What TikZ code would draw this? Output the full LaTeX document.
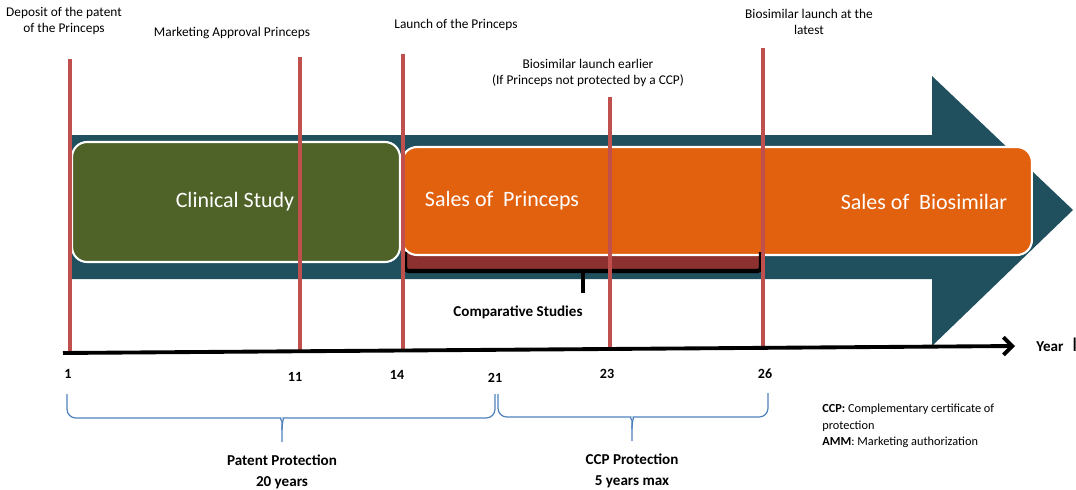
\documentclass[tikz,border=0pt]{standalone}
\usepackage{fontspec}
\setmainfont{Carlito}
\usepackage{xcolor}
\usepackage{tikz}
\usetikzlibrary{calc,arrows.meta,positioning}
\definecolor{arrowTeal}{RGB}{32,80,94}
\definecolor{studyGreen}{RGB}{79,98,40}
\definecolor{salesOrange}{RGB}{226,97,14}
\definecolor{compRed}{RGB}{140,48,48}
\definecolor{markRed}{RGB}{192,80,77}
\definecolor{braceBlue}{RGB}{79,129,189}

\begin{document}
\begin{tikzpicture}[x=0.02cm, y=-0.02cm,
  yearline/.style={draw=markRed, line width=1.8pt},
  toplabel/.style={align=center, font=\fontsize{7.6}{9.1}\selectfont, inner sep=0pt},
  yearnum/.style={font=\bfseries\fontsize{8}{9}\selectfont, inner sep=0pt},
  boldlabel/.style={align=center, font=\bfseries\fontsize{8.6}{11.4}\selectfont, inner sep=0pt},
  phase/.style={draw=white, line width=1.2pt, rounded corners=0.3cm, inner sep=0pt},
  boxtext/.style={text=white, font=\fontsize{12.5}{14}\selectfont, inner sep=0pt},
  bluebrace/.style={braceBlue, line width=0.7pt, rounded corners=5pt}]
\useasboundingbox (0,0) rectangle (1076,490);
% big arrow behind the phases
\fill[arrowTeal] (68,135) -- (932,135) -- (932,76) -- (1073,210) -- (932,346) -- (932,279) -- (68,279) -- cycle;
\fill[compRed] (404,250) rectangle (761,271);
\node[phase, fill=studyGreen, minimum width=6.56cm, minimum height=2.4cm] (study) at (236,202) {};
\node[phase, fill=salesOrange, minimum width=12.6cm, minimum height=2.16cm] (sales) at (717,201) {};
\node[boxtext] (studytxt) at (235,202) {Clinical Study};
\node[boxtext] (princeps) at (502,201) {Sales of\ \ Princeps};
\node[boxtext] (biosim) at (924,202) {Sales of\ \ Biosimilar};
% comparative studies brace
\coordinate (cl) at (405,252);
\coordinate (cr) at (761,252);
\coordinate (ctip) at (583,293);
\draw[line width=2.4pt, rounded corners=2pt] (cl) |- (ctip |- 0,271) -| (cr);
\draw[line width=2.4pt] (ctip |- 0,271) -- (ctip);
\node[boldlabel] (comp) at (518,312) {Comparative Studies};
% time axis
\coordinate (axisL) at (63,353);
\coordinate (axisR) at (1015,346);
\foreach \name/\xpos/\ytop/\ybot in {m1/70/59/353, m11/300/57/351, m14/403/54/350, m23/610/97/349, m26/763/48/348} {
  \coordinate (\name) at (\xpos,\ytop);
  \coordinate (\name foot) at (\xpos,\ybot);
  \draw[yearline] (\name) -- (\name foot);
}
\draw[line width=2.2pt, -{Straight Barb[length=5pt,width=10pt]}] (axisL) -- (axisR);
\node[boldlabel, anchor=west] (year) at (1036,345) {Year\hspace{5pt}{\mdseries\fontsize{12}{12}\selectfont I}};
% events
\node[toplabel] (deposit) at (64,21) {Deposit of the patent\\of the Princeps};
\node[toplabel] (approval) at (232,33) {Marketing Approval Princeps};
\node[toplabel] (launch) at (456,25) {Launch of the Princeps};
\node[toplabel] (earlier) at (588,73) {Biosimilar launch earlier\\(If Princeps not protected by a CCP)};
\node[toplabel] (latest) at (809,22) {Biosimilar launch at the\\latest};
% years
\node[yearnum] (n1) at (68,374) {1};
\node[yearnum] (n11) at (295,377) {11};
\node[yearnum] (n14) at (397,375) {14};
\node[yearnum] (n21) at (495,378) {21};
\node[yearnum] (n23) at (607,374) {23};
\node[yearnum] (n26) at (765,374) {26};
% protection braces
\coordinate (ptip) at (282,442);
\coordinate (ctipb) at (632,441);
\draw[bluebrace] (67,394) -- (67,418) -- (272,418) .. controls (280,418) and (282,422) .. (282,430) -- (ptip);
\draw[bluebrace] (495,394) -- (495,418) -- (292,418) .. controls (284,418) and (282,422) .. (282,430);
\draw[bluebrace] (498,394) -- (498,417) -- (622,417) .. controls (630,417) and (632,421) .. (632,429) -- (ctipb);
\draw[bluebrace] (768,393) -- (768,417) -- (642,417) .. controls (634,417) and (632,421) .. (632,429);
\node[boldlabel, below=0.26cm of ptip] (patent) {Patent Protection\\20 years};
\node[boldlabel, below=0.26cm of ctipb] (ccp) {CCP Protection\\5 years max};
\node[anchor=north west, align=left, font=\fontsize{7}{9.4}\selectfont, inner sep=0pt] (legend) at (822,404)
  {\textbf{CCP:} Complementary certificate of\\protection\\\textbf{AMM}: Marketing authorization};
\end{tikzpicture}
\end{document}
